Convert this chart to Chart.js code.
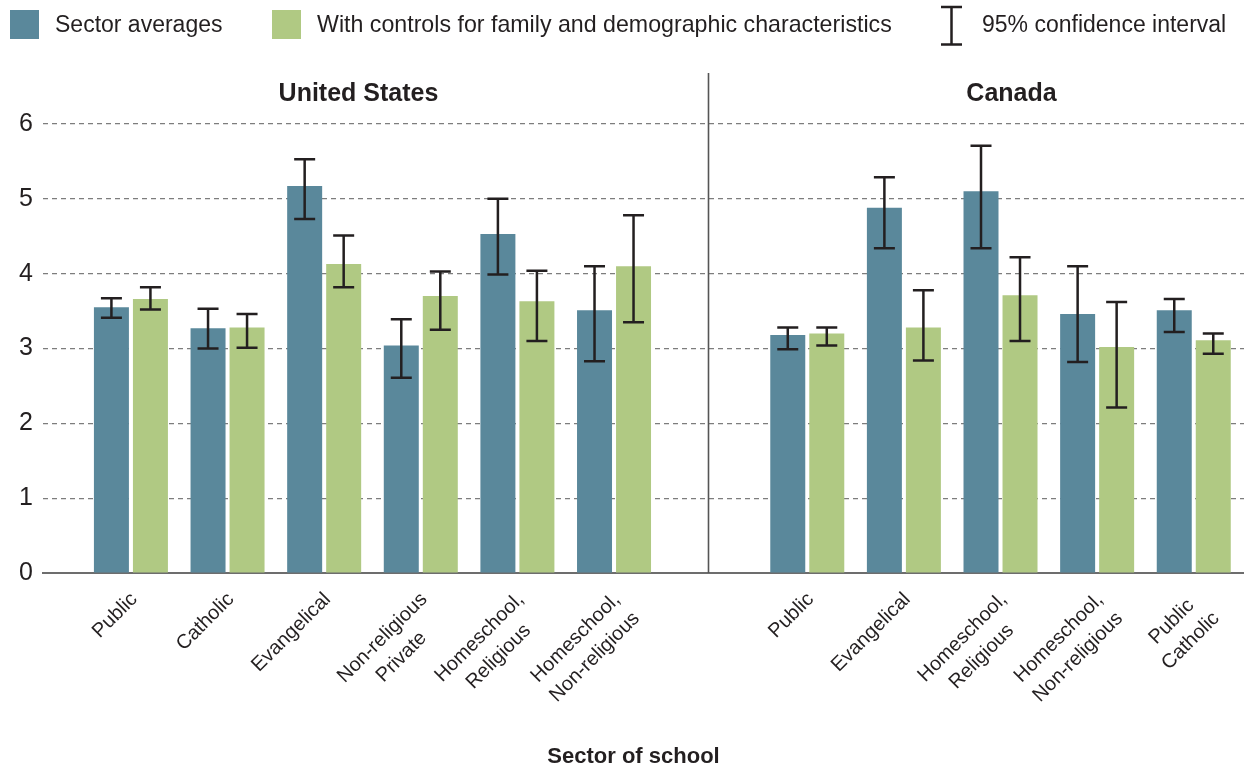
<!DOCTYPE html>
<html>
<head>
<meta charset="utf-8">
<title>Sector of school</title>
<script src="https://cdn.jsdelivr.net/npm/chart.js@4.4.1/dist/chart.umd.min.js"></script>
<style>
  html, body { margin: 0; padding: 0; background: #fff; }
  #wrap {
    position: relative; width: 1244px; height: 768px; overflow: hidden;
    font-family: "Liberation Sans", Arial, sans-serif; color: #231f20;
  }
  #chart { position: absolute; left: 0; top: 0; }
  .swatch { position: absolute; top: 10px; width: 29px; height: 29px; }
  .key { position: absolute; top: 10px; font-size: 23px; line-height: 29px; white-space: nowrap; }
  .ci-key { position: absolute; left: 940px; top: 5px; }
</style>
</head>
<body>
<div id="wrap">
  <canvas id="chart" width="1244" height="768"></canvas>
  <div class="swatch" style="left:10px;background:#5a889b"></div>
  <div class="key" style="left:55px">Sector averages</div>
  <div class="swatch" style="left:272px;background:#b0c983"></div>
  <div class="key" style="left:317px;font-size:23.2px">With controls for family and demographic characteristics</div>
  <svg class="ci-key" width="23" height="42">
    <path d="M1 2 H22 M11.5 2 V39.5 M1 39.5 H22" stroke="#231f20" stroke-width="2.5" fill="none"/>
  </svg>
  <div class="key" style="left:982px">95% confidence interval</div>
</div>
<script>
// categories for each country panel (multi-line labels as arrays)
const usCategories = [
  ["Public"], ["Catholic"], ["Evangelical"], ["Non-religious", "Private"],
  ["Homeschool,", "Religious"], ["Homeschool,", "Non-religious"],
];
const caCategories = [
  ["Public"], ["Evangelical"], ["Homeschool,", "Religious"],
  ["Homeschool,", "Non-religious"], ["Public", "Catholic"],
];

// sector averages with 95% CI
const usAvg = [3.55, 3.27, 5.17, 3.04, 4.53, 3.51];
const usAvgLow = [3.41, 3.00, 4.73, 2.61, 3.99, 2.83];
const usAvgHigh = [3.67, 3.53, 5.53, 3.39, 5.00, 4.10];
const caAvg = [3.18, 4.88, 5.10, 3.46, 3.51];
const caAvgLow = [2.99, 4.34, 4.34, 2.82, 3.22];
const caAvgHigh = [3.28, 5.29, 5.71, 4.10, 3.66];

// with controls for family and demographic characteristics
const usCtrl = [3.66, 3.28, 4.13, 3.70, 3.63, 4.10];
const usCtrlLow = [3.52, 3.01, 3.82, 3.25, 3.10, 3.35];
const usCtrlHigh = [3.82, 3.46, 4.51, 4.03, 4.04, 4.78];
const caCtrl = [3.20, 3.28, 3.71, 3.02, 3.11];
const caCtrlLow = [3.04, 2.84, 3.10, 2.21, 2.93];
const caCtrlHigh = [3.28, 3.78, 4.22, 3.62, 3.20];

const yTicks = [0, 1, 2, 3, 4, 5, 6];
const panels = ["United States", "Canada"];
const xTitle = "Sector of school";

const BLUE = "#5a889b";
const GREEN = "#b0c983";
const INK = "#231f20";
const FONT = '"Liberation Sans", Arial, sans-serif';

// US groups sit at 0..5, one empty slot, then Canada at 7..11
const usPos = usCategories.map((_, i) => i);
const caPos = caCategories.map((_, i) => usCategories.length + 1 + i);
const positions = [...usPos, ...caPos];
const gapPos = usCategories.length;
const labels = [...usCategories, ...caCategories];

const toPoints = (vals) => vals.map((v, i) => ({ x: positions[i], y: v }));

const errorBars = {
  id: "errorBars",
  afterDatasetsDraw(chart) {
    const { ctx } = chart;
    const y = chart.scales.y;
    ctx.save();
    ctx.strokeStyle = INK;
    ctx.lineWidth = 2.5;
    chart.data.datasets.forEach((ds, di) => {
      chart.getDatasetMeta(di).data.forEach((bar, i) => {
        const lo = y.getPixelForValue(ds.ciLow[i]);
        const hi = y.getPixelForValue(ds.ciHigh[i]);
        const cap = 10.5;
        ctx.beginPath();
        ctx.moveTo(bar.x, lo);
        ctx.lineTo(bar.x, hi);
        ctx.moveTo(bar.x - cap, lo);
        ctx.lineTo(bar.x + cap, lo);
        ctx.moveTo(bar.x - cap, hi);
        ctx.lineTo(bar.x + cap, hi);
        ctx.stroke();
      });
    });
    ctx.restore();
  },
};

// rotated category labels, panel titles, divider and axis title
const decorations = {
  id: "decorations",
  afterDraw(chart) {
    const { ctx, chartArea } = chart;
    const x = chart.scales.x;
    ctx.save();
    ctx.fillStyle = INK;

    // divider between the two countries
    const dx = Math.round(x.getPixelForValue(gapPos - 0.03)) + 0.5;
    ctx.strokeStyle = "#555";
    ctx.lineWidth = 1.6;
    ctx.beginPath();
    ctx.moveTo(dx, 73);
    ctx.lineTo(dx, chartArea.bottom);
    ctx.stroke();

    // panel titles
    ctx.font = "bold 25px " + FONT;
    ctx.textAlign = "center";
    ctx.textBaseline = "alphabetic";
    const mid = (a) => (a[0] + a[a.length - 1]) / 2;
    ctx.fillText(panels[0], x.getPixelForValue(mid(usPos)) - 14, 101);
    ctx.fillText(panels[1], x.getPixelForValue(mid(caPos)) + 11, 101);

    // category labels at 45 degrees
    ctx.font = "20px " + FONT;
    labels.forEach((lines, i) => {
      const px = x.getPixelForValue(positions[i]);
      const w = Math.max(...lines.map((l) => ctx.measureText(l).width));
      ctx.save();
      ctx.translate(px - 3, chartArea.bottom + 17);
      ctx.rotate(-Math.PI / 4);
      lines.forEach((l, j) => ctx.fillText(l, -w / 2, 14.5 + j * 27));
      ctx.restore();
    });

    // axis title
    ctx.font = "bold 22px " + FONT;
    ctx.fillText(xTitle, (chartArea.left + chartArea.right) / 2 - 10, 763);
    ctx.restore();
  },
};

new Chart(document.getElementById("chart"), {
  type: "bar",
  data: {
    datasets: [
      {
        label: "Sector averages",
        data: toPoints([...usAvg, ...caAvg]),
        ciLow: [...usAvgLow, ...caAvgLow],
        ciHigh: [...usAvgHigh, ...caAvgHigh],
        backgroundColor: BLUE,
      },
      {
        label: "With controls for family and demographic characteristics",
        data: toPoints([...usCtrl, ...caCtrl]),
        ciLow: [...usCtrlLow, ...caCtrlLow],
        ciHigh: [...usCtrlHigh, ...caCtrlHigh],
        backgroundColor: GREEN,
      },
    ],
  },
  options: {
    responsive: false,
    animation: false,
    datasets: {
      bar: { categoryPercentage: 0.8075, barPercentage: 0.897 },
    },
    layout: { padding: { top: 124, bottom: 195, left: 0, right: 0 } },
    plugins: {
      legend: { display: false },
      tooltip: { enabled: false },
    },
    scales: {
      x: {
        type: "linear",
        offset: false,
        min: -0.91,
        max: 11.52,
        ticks: { display: false, stepSize: 1, includeBounds: false, maxTicksLimit: 30 },
        grid: { display: false },
        border: { display: true, color: "#6d6d6d", width: 2 },
        afterFit: (s) => { s.height = 0; },
      },
      y: {
        min: yTicks[0],
        max: yTicks[yTicks.length - 1],
        afterBuildTicks: (s) => { s.ticks = yTicks.map((v) => ({ value: v })); },
        ticks: { padding: 10, color: INK, font: { family: FONT, size: 25 } },
        grid: { color: "#7d7d7d", lineWidth: 1.2, drawTicks: false },
        border: { display: false, dash: [5, 4] },
        afterFit: (s) => { s.width = 43; },
      },
    },
  },
  plugins: [errorBars, decorations],
});
</script>
</body>
</html>
